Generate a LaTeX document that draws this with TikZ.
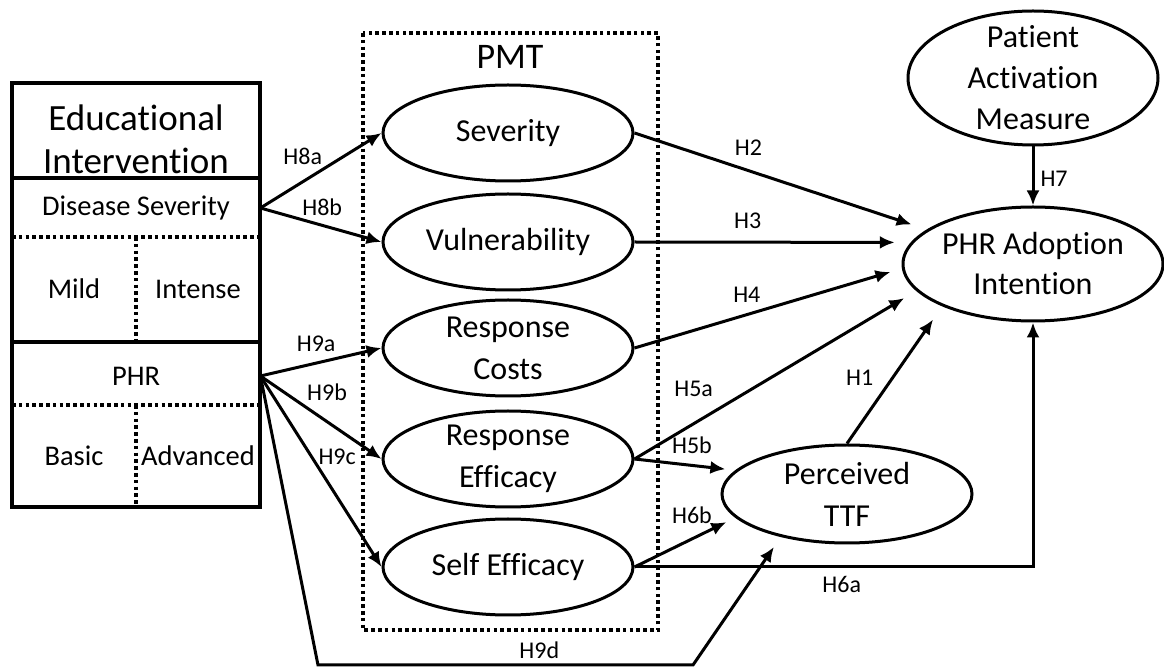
\documentclass[tikz,border=0pt]{standalone}
\usepackage{fontspec}
\setmainfont[Ligatures=NoCommon]{Carlito}
\usetikzlibrary{shapes.geometric,arrows.meta}

\tikzset{
	construct/.style={ellipse, draw, line width=1.5pt, inner xsep=0pt, inner ysep=-6pt,
		minimum width=125pt, minimum height=48pt, align=center, font=\fontsize{16}{21}\selectfont},
	cell/.style={inner sep=0pt, align=center, font=\fontsize{14.25}{17}\selectfont},
	hyp/.style={font=\fontsize{12}{14}\selectfont, inner sep=1pt},
	link/.style={-{Latex[length=7.5pt,width=6.5pt]}, line width=1.5pt},
	dots/.style={line width=1.8pt, dash pattern=on 1.8pt off 1.6pt},
}

\begin{document}
\begin{tikzpicture}[x=0.5pt, y=-0.5pt]
		\useasboundingbox (0,0) rectangle (1164,668);

		% table of the educational intervention
		\draw[line width=2pt] (12,83) rectangle (260,507);
		\draw[line width=1.8pt] (12,178) -- (260,178);
		\draw[line width=1.8pt] (12,342) -- (260,342);
		\draw[dots] (12,237) -- (260,237);
		\draw[dots] (12,405) -- (260,405);
		\draw[dots] (136,237) -- (136,342);
		\draw[dots] (136,405) -- (136,507);

		\node[cell, font=\fontsize{18.5}{21.5}\selectfont] (edu) at (136,139) {Educational\\Intervention};
		\node[cell, minimum width=124pt] (disev) at (136,208) {Disease Severity};
		\node[cell] (mild) at (74,289) {Mild};
		\node[cell] (intense) at (198,289) {Intense};
		\node[cell, minimum width=124pt] (phr) at (136,376) {PHR};
		\node[cell] (basic) at (74,456) {Basic};
		\node[cell] (advanced) at (198,456) {Advanced};

		% PMT frame
		\draw[dots] (363,33) rectangle (658,630);
		\node[font=\fontsize{18}{21}\selectfont] (pmt) at (510,57) {PMT};

		% constructs
		\node[construct] (sev) at (508,133) {Severity};
		\node[construct] (vul) at (508,242) {Vulnerability};
		\node[construct] (cost) at (508,348) {Response\\Costs};
		\node[construct] (reff) at (508,459) {Response\\Efficacy};
		\node[construct] (seff) at (508,567) {Self Efficacy};
		\node[construct, minimum height=49pt] (ttf) at (847,494) {Perceived\\TTF};
		\node[construct, minimum width=130pt, minimum height=57pt, font=\fontsize{16}{20}\selectfont] (adopt) at (1033,264) {PHR Adoption\\Intention};
		\node[construct, minimum height=67pt, font=\fontsize{16}{20.5}\selectfont] (pam) at (1033,78) {Patient\\Activation\\Measure};

		\coordinate (h9da) at (318,665);
		\coordinate (h9db) at (693,665);

		% hypotheses
		\draw[link] (disev.east) -- node[hyp, pos=.35, above=7pt] {H8a} (sev.west);
		\draw[link] (disev.east) -- node[hyp, pos=.51, above=3pt] {H8b} (vul.west);
		\draw[link] (phr.east) -- node[hyp, pos=.46, above=4pt] {H9a} (cost.west);
		\draw[link] (phr.east) -- node[hyp, pos=.55, above=8.5pt] {H9b} (reff.west);
		\draw[link] (phr.east) -- node[hyp, pos=.634, above=14.5pt] {H9c} (seff.west);
		\draw[link, shorten >=6pt] (phr.east) -- (h9da) -- node[hyp, pos=.59, above=1.5pt] {H9d} (h9db) -- (ttf.213);

		\draw[link, shorten >=8pt] (sev.east) -- node[hyp, pos=.39, above=6pt] {H2} (adopt.162);
		\draw[link, shorten >=8pt] (vul.east) -- node[hyp, pos=.41, above=5pt] {H3} (adopt.170);
		\draw[link, shorten >=6pt] (cost.east) -- node[hyp, pos=.42, above=4.5pt] {H4} (adopt.182);
		\draw[link, shorten >=7pt] (reff.east) -- node[hyp, pos=.21, above=12pt] {H5a} (adopt.193);
		\draw[link, shorten >=8pt] (ttf.north) -- node[hyp, pos=.48, left=8pt] {H1} (adopt.205);
		\draw[link, shorten >=5pt] (reff.east) -- node[hyp, pos=.57, above=4pt] {H5b} (ttf.168);
		\draw[link, shorten >=5pt] (seff.east) -- node[hyp, pos=.57, above=6pt] {H6b} (ttf.192);
		\draw[link] (seff.east) -| node[hyp, pos=.26, below=3pt] {H6a} (adopt.south);
		\draw[link] (pam.south) -- node[hyp, pos=.54, right=2pt] {H7} (adopt.north);
	\end{tikzpicture}
\end{document}
